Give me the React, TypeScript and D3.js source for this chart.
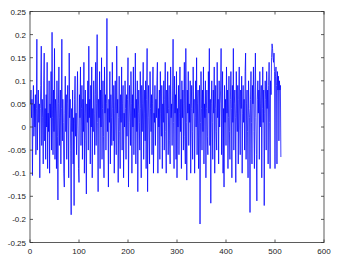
import React from "react";
import * as d3 from "d3";

const xTicks = [0, 100, 200, 300, 400, 500, 600];
const yTicks = [-0.25, -0.2, -0.15, -0.1, -0.05, 0, 0.05, 0.1, 0.15, 0.2, 0.25];
const yTickLabels = ["-0.25", "-0.2", "-0.15", "-0.1", "-0.05", "0", "0.05", "0.1", "0.15", "0.2", "0.25"];

const signalA = [
  0.05, 0.08, 0.02, 0.06, -0.105, 0.03, 0.09, -0.02, 0.05, 0.0, 0.07, -0.06, 0.04, 0.19, -0.05, 0.03,
  0.08, 0.01, 0.05, -0.11, 0.04, 0.09, 0.175, -0.04, 0.06, 0.02, -0.08, 0.1, 0.16, -0.03, 0.04, -0.07,
  0.07, 0.0, 0.14, -0.09, 0.03, -0.01, 0.1, -0.1, 0.05, 0.02, 0.12, -0.05, 0.205, 0.02, -0.06, 0.08,
  -0.01, 0.17, -0.07, 0.06, 0.03, -0.09, 0.1, -0.02, -0.158, 0.05, 0.13, -0.04, 0.02, 0.08, -0.08, 0.04,
  0.19, -0.03, 0.06, 0.01, -0.1, -0.13, 0.03, 0.11, -0.01, 0.07, -0.07, 0.05, 0.09, 0.0, -0.11, 0.16,
  0.02, 0.06, -0.05, -0.19, 0.04, -0.01, 0.08, -0.08, 0.02, -0.17, 0.06, 0.11, -0.02, 0.03, -0.06, 0.05,
  0.12, 0.0, -0.09, -0.12, 0.07, 0.02, 0.13, -0.04, 0.04, 0.09, -0.07, 0.06, -0.01, 0.14, -0.1, 0.03,
  0.08, -0.03, -0.145, 0.05, 0.01, 0.1, -0.05, 0.175, 0.02, 0.06, -0.08, 0.09, 0.0, 0.13, -0.11, 0.04,
];
const signalB = [
  -0.01, 0.1, 0.03, -0.06, 0.07, 0.14, -0.04, 0.05, 0.2, 0.01, -0.14, 0.06, 0.02, 0.12, -0.09, 0.08,
  0.0, 0.15, -0.07, 0.04, 0.1, -0.02, -0.11, 0.13, 0.03, 0.07, -0.05, 0.05, 0.235, -0.01, 0.04, -0.13,
  0.06, 0.01, 0.12, -0.08, 0.07, 0.02, -0.04, 0.14, 0.04, -0.03, 0.09, -0.1, 0.03, 0.1, 0.0, -0.06,
  0.175, 0.03, 0.06, -0.12, 0.02, 0.11, -0.01, -0.09, 0.07, 0.01, 0.13, -0.05, 0.05, 0.09, -0.11, 0.03,
  0.0, 0.1, 0.04, -0.07, 0.07, -0.02, 0.06, 0.15, -0.13, 0.01, 0.09, 0.03, -0.04, 0.12, 0.05, -0.1,
  0.07, 0.0, 0.13, -0.06, 0.04, 0.02, 0.16, -0.08, 0.06, -0.01, 0.1, -0.14, 0.03, 0.08, 0.01, -0.05,
  0.12, 0.04, -0.11, 0.09, -0.01, 0.05, 0.14, -0.07, 0.03, 0.08, -0.03, 0.1, -0.09, 0.06, 0.17, -0.14,
  0.02, 0.09, 0.0, -0.08, 0.12, 0.04, -0.01, 0.07, -0.06, 0.05, 0.13, -0.1, 0.03, 0.01, 0.09, -0.04,
];
const signalC = [
  0.06, 0.02, 0.1, 0.14, -0.1, 0.04, 0.0, 0.08, -0.07, 0.12, 0.03, -0.02, 0.09, -0.09, 0.05, 0.01,
  0.1, -0.05, 0.06, 0.14, -0.01, -0.1, 0.08, 0.03, 0.12, -0.06, 0.04, 0.09, -0.03, -0.08, 0.13, 0.02,
  0.05, -0.04, 0.08, 0.19, 0.01, -0.09, 0.11, 0.03, 0.07, -0.07, 0.12, -0.11, 0.04, 0.0, 0.09, -0.06,
  0.03, 0.13, -0.01, 0.06, -0.09, 0.1, 0.02, 0.08, -0.05, 0.05, 0.14, -0.02, -0.08, 0.17, 0.01, -0.115,
  0.08, 0.03, 0.12, -0.04, 0.05, 0.01, 0.1, -0.1, 0.04, 0.09, -0.01, -0.07, 0.13, 0.03, 0.06, -0.1,
  0.02, 0.1, 0.0, 0.15, -0.06, 0.05, 0.08, -0.09, 0.03, 0.09, -0.21, 0.01, 0.12, 0.04, -0.05, 0.08,
  -0.01, 0.13, -0.08, 0.05, 0.02, 0.1, -0.11, 0.04, 0.08, -0.02, -0.06, 0.12, 0.03, 0.17, -0.04, 0.06,
  -0.165, 0.05, 0.1, 0.01, -0.07, 0.08, 0.03, 0.13, -0.1, 0.04, 0.09, -0.01, -0.05, 0.14, 0.02, 0.06,
];
const signalD = [
  -0.08, 0.1, 0.0, 0.05, 0.08, 0.17, -0.06, 0.03, 0.12, -0.1, 0.04, -0.13, 0.09, 0.01, 0.06, -0.04,
  0.13, 0.03, 0.08, -0.09, 0.02, 0.11, -0.01, -0.07, 0.06, 0.12, 0.04, -0.11, 0.09, 0.01, 0.17, -0.05,
  0.05, 0.08, 0.02, -0.12, 0.12, 0.03, -0.01, 0.09, -0.08, 0.06, 0.13, 0.0, -0.06, 0.08, 0.04, 0.11,
  -0.1, 0.03, 0.09, 0.01, 0.06, -0.05, 0.12, 0.16, -0.07, 0.05, 0.08, -0.01, -0.11, 0.1, 0.04, 0.02,
  -0.185, 0.06, 0.12, 0.01, -0.08, 0.09, 0.05, 0.13, -0.01, -0.09, 0.08, 0.16, 0.02, -0.06, -0.16, 0.06,
  0.1, 0.03, 0.08, -0.07, 0.12, 0.0, 0.05, 0.09, -0.11, 0.04, 0.13, 0.01, 0.08, -0.17, 0.03, 0.1,
  0.06, -0.05, 0.12, 0.04, 0.08, -0.08, 0.09, 0.14, 0.01, -0.09, 0.1, 0.07, 0.15, 0.18, 0.17, 0.15,
  0.14, 0.16, 0.12, -0.09, 0.11, 0.13, 0.09, -0.08, 0.12, 0.08, 0.11, -0.03, 0.1, 0.08, 0.09, -0.065,
];

const signal = [...signalA, ...signalB, ...signalC, ...signalD];

export default function App() {
  const W = 340, H = 260;
  const left = 30, right = 324, top = 11.5, bottom = 242.5;
  const x = d3.scaleLinear().domain([0, 600]).range([left, right]);
  const y = d3.scaleLinear().domain([-0.25, 0.25]).range([bottom, top]);
  const line = d3.line<number>().x((_, i) => x(i + 1)).y((d) => y(d));
  const tl = 3;
  const font = "'Liberation Sans', Arial, sans-serif";
  return (
    <svg width={W} height={H} style={{ position: "absolute", left: 0, top: 0, background: "#fff" }}>
      <rect x={0} y={0} width={W} height={H} fill="#fff" />
      <path d={line(signal) ?? ""} fill="none" stroke="#0000ff" strokeWidth={0.75} strokeLinejoin="round" />
      <rect x={left} y={top} width={right - left} height={bottom - top} fill="none" stroke="#333" strokeWidth={0.8} />
      {xTicks.map((t) => (
        <g key={"x" + t}>
          <line x1={x(t)} x2={x(t)} y1={bottom} y2={bottom - tl} stroke="#333" strokeWidth={0.8} />
          <line x1={x(t)} x2={x(t)} y1={top} y2={top + tl} stroke="#333" strokeWidth={0.8} />
          <text x={x(t)} y={254} fontSize={8} fontFamily={font} textAnchor="middle" fill="#222">{t}</text>
        </g>
      ))}
      {yTicks.map((t, i) => (
        <g key={"y" + t}>
          <line x1={left} x2={left + tl} y1={y(t)} y2={y(t)} stroke="#333" strokeWidth={0.8} />
          <line x1={right} x2={right - tl} y1={y(t)} y2={y(t)} stroke="#333" strokeWidth={0.8} />
          <text x={26} y={y(t) + 3} fontSize={8} fontFamily={font} textAnchor="end" fill="#222">{yTickLabels[i]}</text>
        </g>
      ))}
    </svg>
  );
}
